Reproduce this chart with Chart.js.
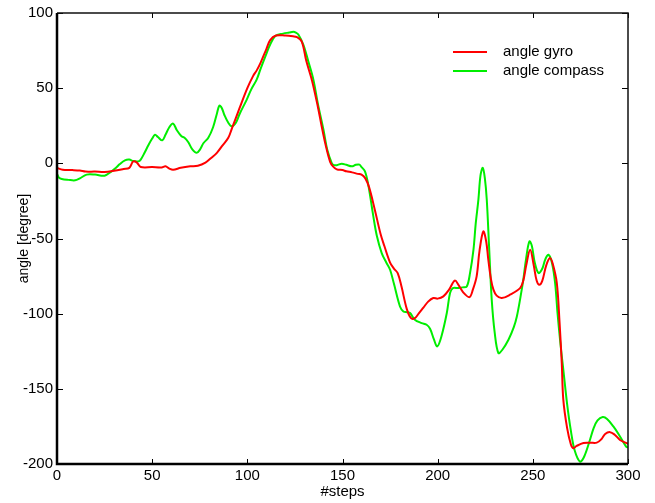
<!DOCTYPE html>
<html>
<head>
<meta charset="utf-8">
<script src="https://cdn.jsdelivr.net/npm/chart.js@4.4.0/dist/chart.umd.min.js"></script>
<style>
  html, body { margin: 0; padding: 0; background: #fff; }
  #wrap { width: 655px; height: 503px; }
</style>
</head>
<body>
<div id="wrap"><canvas id="angles"></canvas></div>
<script>
// data
const seriesNames = ['angle gyro', 'angle compass'];
const xTicks = [0, 50, 100, 150, 200, 250, 300];
const yTicks = [-200, -150, -100, -50, 0, 50, 100];

const gyroSteps = [0, 3, 8, 12, 15, 20, 25, 30, 35, 38, 40, 42, 44, 50, 55, 57, 59, 61, 65, 70, 74, 78, 81, 84, 87, 90, 92, 96, 100,
  103, 105, 107, 110, 112, 115, 120, 124, 126, 128.6, 131, 134, 137, 139, 141, 143.5, 145, 147, 150, 152, 155, 158, 160,
  162, 164, 167, 170, 172, 175, 177, 179, 181, 183.8, 186, 188, 190, 192.5, 195, 197.7, 200, 203, 206, 209, 211, 213.5,
  216.7, 218.5, 220.5, 222, 224, 225.5, 226.6, 228, 229.3, 231, 233.7, 238, 243.3, 245, 246.5, 248.6, 250.5, 252, 253.4,
  255, 257, 259, 260.5, 262.6, 264, 265.2, 266, 268, 270, 271.3, 273, 276.6, 280, 283.6, 286, 288, 290.6, 293, 295.8, 299, 300];
const gyroAngle = [-3, -4.3, -4.5, -4.8, -5.5, -5.5, -5.8, -5, -3.8, -3, 1.2, 0.5, -2.4, -2.5, -2.7, -2, -3.5, -4.3, -3, -2, -1.6, 0.5, 3.6, 7, 12, 17, 23.6, 37, 50,
  58, 62, 67, 76, 82, 85, 85, 84.5, 84, 81, 68, 55, 38, 25, 13, 1, -2, -4, -4.5, -5.3, -6, -7, -7.5,
  -10, -16, -31, -47, -55, -66, -70, -73, -82, -97, -103, -103, -100, -96, -92, -89.6, -90, -88.5, -84, -78, -81, -86,
  -89, -84, -75, -58, -45.3, -52, -64, -77, -84, -88, -89.6, -87.4, -83, -78, -68, -57.5, -68, -78, -80.8,
  -78, -68, -63, -67, -79.6, -105, -133, -157, -176, -187, -189.5, -188, -186, -185.8, -185.8, -183.5, -180, -178.8, -180.5, -184, -186, -186.5];

const compassSteps = [0, 1, 2.5, 6, 9.5, 12, 15.6, 20, 25, 28.7, 31, 33, 35.7, 38, 40, 42.7, 44, 46, 48, 50, 51.5, 53, 55.3, 57, 59, 61,
  63, 65.4, 67, 69, 71, 73.4, 75, 77, 79.5, 82, 84, 85.3, 86.5, 88, 90, 91.8, 94, 96, 99.7, 102, 104.9, 107, 110.2, 112,
  114.6, 118.8, 122, 124.2, 125.5, 126.8, 129.4, 132, 134.7, 137, 140, 142, 144.3, 145.2, 147, 149.6, 152, 154.9, 157, 158.9,
  160, 161.8, 163.5, 166.2, 168, 170.6, 173, 175, 177, 180.2, 182, 184, 185.5, 188, 191.6, 194.2, 196, 198, 199.8, 202, 204.8,
  206.5, 208, 210.9, 213, 215.3, 217, 218.8, 220, 221.4, 222.5, 223.7, 224.8, 225.8, 227, 228.4, 230, 231.9, 234, 237.2, 240,
  241.6, 243.5, 245, 246.5, 248.2, 249.5, 251, 253, 255, 256.5, 258.2, 260, 261.7, 263, 264.5, 266, 268, 270, 272, 274.8,
  277, 280, 282, 284, 286.7, 289, 292.3, 295, 299, 300];
const compassAngle = [-7, -9.5, -10.4, -11, -11.3, -10, -7.5, -7.5, -8.2, -5.3, -3, -0.5, 2, 2.5, 1.5, 1.3, 2.5, 7, 12, 16.5, 19, 17.5, 15.3, 19, 24, 26.4,
  22, 18, 17, 14, 9.5, 7, 9, 13.5, 17, 24, 33, 38.4, 37, 32, 27, 24.6, 27, 33, 42.4, 49, 55.7, 63, 73.5, 79,
  84.6, 86.3, 87, 87.5, 87, 85.7, 79, 68, 55.7, 40, 22.4, 9, 0.3, -1, -1.2, -0.2, -1, -2, -1, -0.9,
  -2.5, -5.3, -14, -35.3, -48, -59.7, -66, -70.8, -80, -95.2, -98.5, -99, -99.6, -104, -106.3, -107.4, -110, -117, -121.8, -115, -99.6,
  -86.3, -83, -83, -82.5, -81.9, -73, -57.5, -40, -24.2, -8, -3, -10, -24.2, -55, -90.7, -113, -126.2, -124, -117.4, -109,
  -101.9, -89, -77.4, -63, -51.9, -55, -66, -73, -70, -64, -60.8, -66, -79.6, -100, -120, -137, -160, -178, -191, -198.4,
  -195, -184, -176, -171, -168.8, -170, -175, -180, -188.4, -189];

const lineColors = ['#ff0000', '#00ee00'];

function toPoints(xs, ys) {
    return xs.map(function (x, i) { return { x: x, y: ys[i] }; });
}

// frame with inward ticks on all four sides + legend inside the plot
const framePlugin = {
    id: 'frame',
    afterDatasetsDraw(chart) {
        const ctx = chart.ctx;
        const a = chart.chartArea;
        const xs = chart.scales.x;
        const ys = chart.scales.y;
        ctx.save();
        ctx.strokeStyle = '#000';
        ctx.lineWidth = 1;
        ctx.beginPath();
        xTicks.forEach(function (v) {
            const px = Math.round(xs.getPixelForValue(v)) + 0.5;
            ctx.moveTo(px, a.bottom); ctx.lineTo(px, a.bottom - 5);
            ctx.moveTo(px, a.top); ctx.lineTo(px, a.top + 5);
        });
        yTicks.forEach(function (v) {
            const py = Math.round(ys.getPixelForValue(v)) + 0.5;
            ctx.moveTo(a.left, py); ctx.lineTo(a.left + 6, py);
            ctx.moveTo(a.right, py); ctx.lineTo(a.right - 6, py);
        });
        ctx.stroke();
        // box
        ctx.lineWidth = 1.5;
        ctx.strokeStyle = '#111';
        ctx.beginPath();
        ctx.moveTo(a.left, a.top); ctx.lineTo(a.right, a.top);
        ctx.lineTo(a.right, a.bottom);
        ctx.stroke();
        ctx.lineWidth = 2.5;
        ctx.strokeStyle = '#000';
        ctx.beginPath();
        ctx.moveTo(a.left, a.top); ctx.lineTo(a.left, a.bottom);
        ctx.lineTo(a.right, a.bottom);
        ctx.stroke();

        // legend
        ctx.font = '15px "Liberation Sans", Arial, sans-serif';
        ctx.textBaseline = 'middle';
        ctx.fillStyle = '#000';
        chart.data.datasets.forEach(function (ds, i) {
            const y = 52 + i * 19;
            ctx.strokeStyle = ds.borderColor;
            ctx.lineWidth = 2;
            ctx.beginPath();
            ctx.moveTo(453, y); ctx.lineTo(487, y);
            ctx.stroke();
            ctx.fillText(ds.label, 503, y);
        });
        ctx.restore();
    }
};

const ctx = document.getElementById('angles').getContext('2d');
const chart = new Chart(ctx, {
    type: 'line',
    data: {
        datasets: [{
            label: seriesNames[0],
            data: toPoints(gyroSteps, gyroAngle),
            borderColor: lineColors[0],
            borderWidth: 2,
            pointRadius: 0,
            tension: 0.35,
            fill: false
        }, {
            label: seriesNames[1],
            data: toPoints(compassSteps, compassAngle),
            borderColor: lineColors[1],
            borderWidth: 2,
            pointRadius: 0,
            tension: 0.35,
            fill: false
        }]
    },
    options: {
        responsive: true,
        maintainAspectRatio: false,
        animation: false,
        layout: { padding: { top: 13, right: 27, left: 0, bottom: 0 } },
        plugins: {
            legend: { display: false },
            tooltip: { enabled: false }
        },
        scales: {
            x: {
                type: 'linear',
                min: 0,
                max: 300,
                afterBuildTicks: function (scale) { scale.ticks = xTicks.map(function (v) { return { value: v }; }); },
                afterFit: function (scale) { scale.height = 39; },
                grid: { display: false, drawTicks: false },
                border: { display: false },
                ticks: {
                    padding: 3,
                    color: '#000',
                    maxRotation: 0,
                    font: { family: '"Liberation Sans", Arial, sans-serif', size: 15 }
                },
                title: {
                    display: true,
                    text: '#steps',
                    color: '#000',
                    padding: { top: 0, bottom: 2 },
                    font: { family: '"Liberation Sans", Arial, sans-serif', size: 15 }
                }
            },
            y: {
                type: 'linear',
                min: -200,
                max: 100,
                afterBuildTicks: function (scale) { scale.ticks = yTicks.map(function (v) { return { value: v }; }); },
                afterFit: function (scale) { scale.width = 57; },
                grid: { display: false, drawTicks: false },
                border: { display: false },
                ticks: {
                    padding: 4,
                    color: '#000',
                    font: { family: '"Liberation Sans", Arial, sans-serif', size: 15 }
                },
                title: {
                    display: true,
                    text: 'angle [degree]',
                    color: '#000',
                    padding: { top: 16, bottom: 0 },
                    font: { family: '"Liberation Sans", Arial, sans-serif', size: 14 }
                }
            }
        }
    },
    plugins: [framePlugin]
});
</script>
</body>
</html>
